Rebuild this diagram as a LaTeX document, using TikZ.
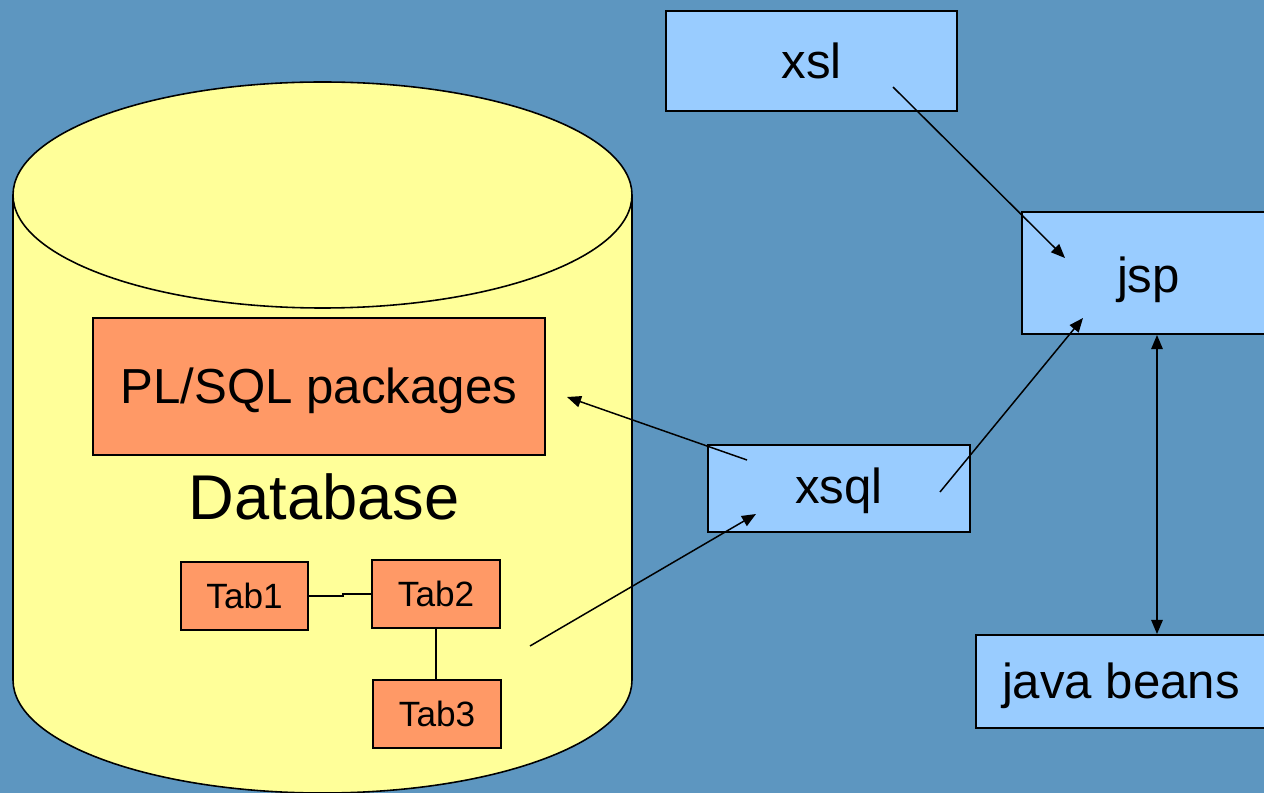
\documentclass[tikz,border=0pt]{standalone}
\usepackage{fontspec}
\setmainfont{Liberation Sans}
\usetikzlibrary{arrows.meta,calc}
\definecolor{bgblue}{RGB}{93,150,192}
\definecolor{cylfill}{RGB}{255,255,153}
\definecolor{boxblue}{RGB}{153,204,255}
\definecolor{boxorange}{RGB}{255,153,102}
\tikzset{
  bluebox/.style={draw=black, line width=1.1pt, fill=boxblue, inner sep=0pt,
    font=\fontsize{28}{32}\selectfont},
  orangebox/.style={draw=black, line width=1.1pt, fill=boxorange, inner sep=0pt},
  tabbox/.style={orangebox, minimum width=2.55cm, minimum height=1.36cm,
    font=\fontsize{20}{24}\selectfont},
  arr/.style={line width=0.85pt, -{Triangle[length=8pt,width=6.5pt]}},
  dblarr/.style={line width=0.85pt, {Triangle[length=8pt,width=6.5pt]}-{Triangle[length=8pt,width=6.5pt]}},
  plain/.style={line width=0.85pt},
}
\begin{document}
\begin{tikzpicture}[x=0.02cm,y=0.02cm]
\useasboundingbox (0,0) rectangle (1264,-793);
\clip (0,0) rectangle (1264,-793);
\fill[bgblue] (0,0) rectangle (1264,-793);
% cylinder
\filldraw[fill=cylfill, draw=black, line width=0.9pt]
  (13,-195) -- (13,-680) arc[start angle=180, end angle=360, x radius=309.5, y radius=113]
  -- (632,-195);
\filldraw[fill=cylfill, draw=black, line width=0.9pt]
  (322.5,-195) ellipse [x radius=309.5, y radius=113];
% nodes
\node[orangebox, minimum width=9.04cm, minimum height=2.74cm,
  font=\fontsize{28}{32}\selectfont, text height=25pt, text depth=6pt] (plsql) at (319,-386.5) {PL/SQL packages};
\node[font=\fontsize{36}{40}\selectfont, inner sep=0pt] (db) at (324,-497) {Database};
\node[tabbox] (tab1) at (244.5,-596) {Tab1};
\node[tabbox] (tab2) at (436,-594) {Tab2};
\node[tabbox] (tab3) at (437,-714) {Tab3};
\node[bluebox, minimum width=5.82cm, minimum height=2.0cm] (xsl) at (811.5,-61) {xsl};
\node[bluebox, minimum width=5.06cm, minimum height=2.44cm, text height=28pt, text depth=5.3pt] (jsp) at (1148.5,-273) {jsp};
\node[bluebox, minimum width=5.24cm, minimum height=1.74cm, text height=23.2pt, text depth=5.6pt] (xsql) at (839,-488.5) {xsql};
\node[bluebox, minimum width=5.8cm, minimum height=1.86cm, text height=25.8pt, text depth=5.9pt] (java) at (1121,-681.5) {java beans};
% table links
\draw[plain] (tab1.east) -- ++(34,0) |- (tab2.west);
\draw[plain] (tab2.south) -- (tab2.south |- tab3.north);
% arrow end points
\coordinate (a1s) at (893,-87);
\coordinate (a1e) at (1065,-258);
\coordinate (a2s) at (940,-492);
\coordinate (a2e) at (1083,-318);
\coordinate (jbx) at (1157,0);
\coordinate (a4s) at (747,-460);
\coordinate (a4e) at (567,-397);
\coordinate (a5s) at (530,-646);
\coordinate (a5e) at (756,-514);
\draw[arr] (a1s) -- (a1e);
\draw[arr] (a2s) -- (a2e);
\draw[dblarr] (jsp.south -| jbx) -- (java.north -| jbx);
\draw[arr] (a4s) -- (a4e);
\draw[arr] (a5s) -- (a5e);
\end{tikzpicture}
\end{document}
